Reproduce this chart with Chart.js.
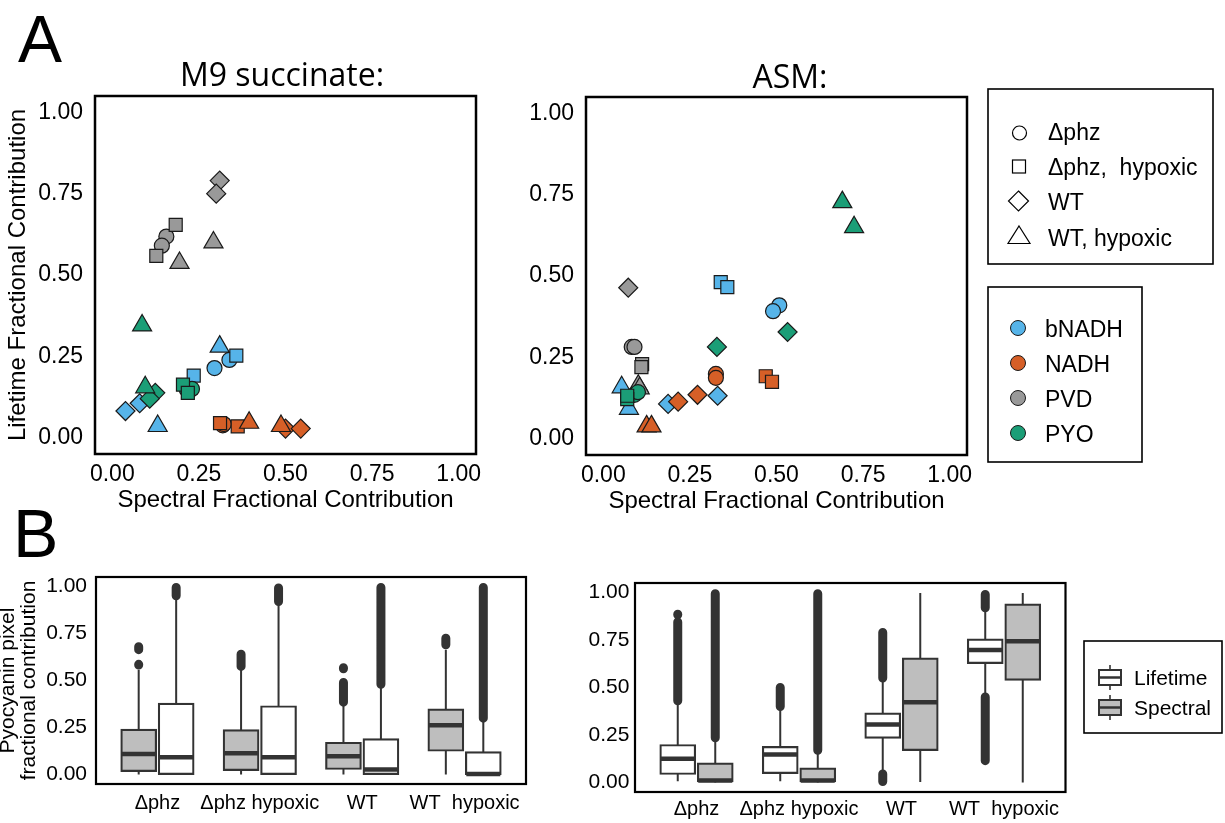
<!DOCTYPE html>
<html lang="en">
<head>
<meta charset="UTF-8" />
<title>Pyocyanin fractional contribution</title>
<script src="https://cdn.jsdelivr.net/npm/chart.js"></script>
<style>
body { margin: 0; background: #fff; }
#page {
  position: relative;
  width: 1225px;
  height: 823px;
  overflow: hidden;
  background: #fff;
  font-family: 'Liberation Sans', Arial, Helvetica, sans-serif;
}
canvas { position: absolute; }
#overlay { position: absolute; left: 0; top: 0; pointer-events: none; }
</style>
</head>
<body>
<div id="page">
  <canvas id="m9Scatter" width="482" height="430" style="left:0;top:90px"></canvas>
  <canvas id="asmScatter" width="482" height="430" style="left:490px;top:90px"></canvas>
  <canvas id="m9Box" width="532" height="253" style="left:0;top:570px"></canvas>
  <canvas id="asmBox" width="532" height="248" style="left:540px;top:575px"></canvas>
  <svg id="overlay" width="1225" height="823"></svg>
</div>

<script>
// ---- panel A : scatter values [spectral, lifetime, condition] ----
const shapeKeys = ['phz', 'phzHyp', 'wt', 'wtHyp'];
const shapeLabels = ['Δphz', 'Δphz,  hypoxic', 'WT', 'WT, hypoxic'];
const fluorLabels = ['bNADH', 'NADH', 'PVD', 'PYO'];
const fracTicks = [0, 0.25, 0.5, 0.75, 1];

const m9BNADH = [[0.038, 0.082, 'wt'], [0.079, 0.106, 'wt'], [0.131, 0.036, 'wtHyp'], [0.31, 0.28, 'wtHyp'],
  [0.235, 0.191, 'phzHyp'], [0.358, 0.252, 'phzHyp'], [0.295, 0.214, 'phz'], [0.338, 0.239, 'phz']];
const m9NADH = [[0.319, 0.038, 'phz'], [0.322, 0.042, 'phz'], [0.311, 0.045, 'phzHyp'], [0.362, 0.035, 'phzHyp'],
  [0.395, 0.046, 'wtHyp'], [0.487, 0.036, 'wtHyp'], [0.50, 0.028, 'wt'], [0.544, 0.028, 'wt']];
const m9PVD = [[0.31, 0.79, 'wt'], [0.30, 0.75, 'wt'], [0.183, 0.654, 'phzHyp'], [0.127, 0.559, 'phzHyp'],
  [0.156, 0.618, 'phz'], [0.143, 0.59, 'phz'], [0.292, 0.60, 'wtHyp'], [0.194, 0.537, 'wtHyp']];
const m9PYO = [[0.086, 0.345, 'wtHyp'], [0.095, 0.155, 'wtHyp'], [0.124, 0.138, 'wt'], [0.108, 0.12, 'wt'],
  [0.215, 0.148, 'phz'], [0.23, 0.15, 'phz'], [0.204, 0.163, 'phzHyp'], [0.218, 0.138, 'phzHyp']];

const asmBNADH = [[0.339, 0.481, 'phzHyp'], [0.358, 0.466, 'phzHyp'], [0.508, 0.41, 'phz'], [0.49, 0.392, 'phz'],
  [0.33, 0.132, 'wt'], [0.187, 0.107, 'wt'], [0.053, 0.158, 'wtHyp'], [0.074, 0.092, 'wtHyp']];
const asmNADH = [[0.469, 0.192, 'phzHyp'], [0.487, 0.175, 'phzHyp'], [0.325, 0.199, 'phz'], [0.325, 0.187, 'phz'],
  [0.272, 0.135, 'wt'], [0.216, 0.114, 'wt'], [0.125, 0.038, 'wtHyp'], [0.139, 0.038, 'wtHyp']];
const asmPVD = [[0.072, 0.464, 'wt'], [0.082, 0.282, 'phz'], [0.09, 0.282, 'phz'], [0.112, 0.229, 'phzHyp'],
  [0.11, 0.22, 'phzHyp'], [0.101, 0.163, 'wtHyp'], [0.105, 0.155, 'wtHyp']];
const asmPYO = [[0.69, 0.727, 'wtHyp'], [0.724, 0.65, 'wtHyp'], [0.532, 0.328, 'wt'], [0.328, 0.282, 'wt'],
  [0.069, 0.122, 'phzHyp'], [0.069, 0.132, 'phzHyp'], [0.09, 0.135, 'phz'], [0.1, 0.143, 'phz']];

// ---- panel B : box stats [lower whisker, Q1, median, Q3, upper whisker], outliers as [from, to] ----
const boxGroups = ['Δphz', 'Δphz hypoxic', 'WT', 'WT  hypoxic'];
const boxLabels = ['Lifetime', 'Spectral'];

const m9Spectral = [[0.0, 0.016, 0.11, 0.242, 0.557], [0.0, 0.021, 0.113, 0.239, 0.557],
  [0.0, 0.027, 0.097, 0.172, 0.38], [0.0, 0.124, 0.262, 0.349, 0.664]];
const m9SpectralOut = [[[0.582, 0.586], [0.664, 0.68]], [[0.575, 0.64]], [[0.385, 0.49], [0.562, 0.568]], [[0.69, 0.725]]];
const m9Lifetime = [[0.0, 0.0, 0.092, 0.38, 0.93], [0.0, 0.0, 0.092, 0.366, 0.91],
  [0.0, 0.0, 0.027, 0.191, 0.47], [0.0, 0.0, 0.003, 0.122, 0.29]];
const m9LifetimeOut = [[[0.95, 0.994]], [[0.92, 0.992]], [[0.48, 0.994]], [[0.30, 0.994]]];

const asmLifetime = [[0.007, 0.042, 0.125, 0.2, 0.42], [0.007, 0.047, 0.147, 0.19, 0.385],
  [0.06, 0.232, 0.305, 0.367, 0.54], [0.46, 0.626, 0.697, 0.756, 0.905]];
const asmLifetimeOut = [[[0.43, 0.845], [0.883, 0.886]], [[0.40, 0.50]], [[0.55, 0.79], [0.005, 0.045]],
  [[0.92, 0.99], [0.115, 0.45]]];
const asmSpectral = [[0.0, 0.003, 0.01, 0.103, 0.226], [0.0, 0.003, 0.01, 0.077, 0.16],
  [0.003, 0.168, 0.423, 0.656, 0.998], [0.0, 0.537, 0.744, 0.94, 0.998]];
const asmSpectralOut = [[[0.235, 0.994]], [[0.17, 0.994]], [], []];

// ---- styling ----
const sans = "'Liberation Sans', Arial, Helvetica, sans-serif";
const fluorColors = ['#56B4E9', '#D65F27', '#999999', '#1B9E77'];
const shapeStyles = ['circle', 'rect', 'rectRot', 'triangle'];
const shapeRadius = [7.5, 9.2, 9.5, 11];
const dark = '#333333';
const boxGrey = '#BEBEBE';
const dodge = 0.183;

Chart.defaults.font.family = sans;
Chart.defaults.color = '#000';
Chart.defaults.animation = false;

const framePlugin = {
  id: 'frame',
  afterDraw(chart, args, opts) {
    const { ctx, chartArea: a } = chart;
    ctx.save();
    ctx.strokeStyle = '#000';
    ctx.lineWidth = opts.width || 2;
    ctx.strokeRect(a.left, a.top, a.right - a.left, a.bottom - a.top);
    ctx.restore();
  }
};

// fixed axis box, and no extra room for end labels (they sit inside the range)
function fitBox(s, o) {
  if (o.width) s.width = o.width;
  if (o.height) s.height = o.height;
  s.paddingTop = 0; s.paddingBottom = 0; s.paddingLeft = 0; s.paddingRight = 0;
}

function fracAxis(o) {
  return {
    type: 'linear', min: -0.05, max: 1.05,
    grid: { display: false, drawTicks: false },
    border: { display: false },
    afterBuildTicks: s => { s.ticks = fracTicks.map(v => ({ value: v })); },
    afterFit: s => fitBox(s, o),
    ticks: { callback: v => v.toFixed(2), font: { size: o.tickSize }, color: '#000', padding: o.tickPad },
    title: {
      display: !!o.title, text: o.title, color: '#000', padding: o.titlePad || 0,
      font: { size: o.titleSize || 24, lineHeight: o.titleLine || 1.2 }
    }
  };
}

function scatterSets(seriesList) {
  const sets = [];
  seriesList.forEach((pts, fi) => {
    shapeKeys.forEach((key, si) => {
      const data = pts.filter(p => p[2] === key).map(p => ({ x: p[0], y: p[1] }));
      if (!data.length) return;
      sets.push({
        label: fluorLabels[fi] + ' ' + shapeLabels[si],
        data,
        pointStyle: shapeStyles[si],
        pointRadius: shapeRadius[si],
        backgroundColor: fluorColors[fi],
        borderColor: '#1a1a1a',
        borderWidth: 1.2
      });
    });
  });
  sets.forEach((s, i) => { s.order = -i; });
  return sets;
}

function scatterChart(id, series, o) {
  new Chart(document.getElementById(id), {
    type: 'scatter',
    data: { datasets: scatterSets(series) },
    plugins: [framePlugin],
    options: {
      responsive: false,
      layout: { padding: o.padding, autoPadding: false },
      plugins: { legend: { display: false }, tooltip: { enabled: false }, frame: { width: 2.5 } },
      scales: {
        x: fracAxis({ height: o.xHeight, tickSize: 23, tickPad: 7, title: 'Spectral Fractional Contribution', titlePad: { top: 0, bottom: o.xTitlePad } }),
        y: fracAxis({ width: o.yWidth, tickSize: 23, tickPad: 12, title: o.yTitle, titlePad: { top: 3.5, bottom: 0 } })
      }
    }
  });
}

function boxSets(series) {
  const whisk = [], outl = [], sets = [];
  series.forEach((s, k) => {
    const dx = k === 0 ? -dodge : dodge;
    s.stats.forEach((st, g) => {
      const x = g + 1 + dx;
      whisk.push({ x, y: st[0] }, { x, y: st[4] }, { x, y: null });
      s.out[g].forEach(r => outl.push({ x, y: r[0] }, { x, y: r[1] }, { x, y: null }));
    });
    sets.push({
      type: 'bar', label: s.label,
      data: s.stats.map((st, g) => ({ x: g + 1 + dx, y: [st[1], st[3]] })),
      backgroundColor: s.fill, borderColor: dark, borderWidth: 2.2, borderSkipped: false,
      grouped: false, barThickness: 36, order: 2
    });
    sets.push({
      type: 'line', showLine: false,
      data: s.stats.map((st, g) => ({ x: g + 1 + dx, y: st[2] })),
      pointStyle: 'line', pointRadius: 17, pointBorderWidth: 4.5, pointBorderColor: dark, order: 1
    });
  });
  sets.push({ type: 'line', data: whisk, borderColor: dark, borderWidth: 2, pointRadius: 0, spanGaps: false, order: 4 });
  sets.push({ type: 'line', data: outl, borderColor: dark, borderWidth: 9, borderCapStyle: 'round', pointRadius: 0, spanGaps: false, order: 3 });
  return sets;
}

function boxChart(id, series, o) {
  new Chart(document.getElementById(id), {
    type: 'bar',
    data: { datasets: boxSets(series) },
    plugins: [framePlugin],
    options: {
      responsive: false,
      layout: { padding: o.padding, autoPadding: false },
      plugins: { legend: { display: false }, tooltip: { enabled: false }, frame: { width: 2.2 } },
      scales: {
        x: {
          type: 'linear', min: 0.4, max: 4.6, offset: false,
          grid: { display: false, drawTicks: false }, border: { display: false },
          afterBuildTicks: s => { s.ticks = boxGroups.map((g, i) => ({ value: i + 1 })); },
          afterFit: s => fitBox(s, { height: o.xHeight }),
          ticks: { callback: v => boxGroups[v - 1], font: { size: 20 }, color: '#000', padding: o.xTickPad, autoSkip: false, maxRotation: 0 }
        },
        y: fracAxis({ width: o.yWidth, tickSize: 21, tickPad: o.yTickPad, title: o.yTitle, titleSize: 21, titleLine: 1.0,
                      titlePad: { top: -2.7, bottom: 0 } })
      }
    }
  });
}

scatterChart('m9Scatter', [m9BNADH, m9NADH, m9PVD, m9PYO],
  { padding: { top: 6, right: 6 }, xHeight: 66, yWidth: 95, xTitlePad: 5.5, yTitle: 'Lifetime Fractional Contribution' });
scatterChart('asmScatter', [asmBNADH, asmNADH, asmPVD, asmPYO],
  { padding: { top: 7, right: 5 }, xHeight: 65, yWidth: 96, xTitlePad: 4.5, yTitle: '' });

boxChart('m9Box', [
  { label: boxLabels[1], stats: m9Spectral, out: m9SpectralOut, fill: boxGrey },
  { label: boxLabels[0], stats: m9Lifetime, out: m9LifetimeOut, fill: '#ffffff' }
], { padding: { top: 7, right: 6 }, xHeight: 39, yWidth: 96, xTickPad: 7.5, yTickPad: 9,
     yTitle: ['Pyocyanin pixel', 'fractional contribution'] });
boxChart('asmBox', [
  { label: boxLabels[0], stats: asmLifetime, out: asmLifetimeOut, fill: '#ffffff' },
  { label: boxLabels[1], stats: asmSpectral, out: asmSpectralOut, fill: boxGrey }
], { padding: { top: 8, right: 6.5 }, xHeight: 31, yWidth: 95, xTickPad: 5.5, yTickPad: 5.6, yTitle: '' });

// ---- panel letters, titles and legends ----
let svg = '';
const txt = (x, y, s, size, extra) =>
  `<text x="${x}" y="${y}" font-size="${size}" ${extra || ''}>${s}</text>`;
svg += `<g font-family="${sans.replace(/'/g, '')}" fill="#000">`;
svg += txt(18, 62, 'A', 66);
svg += txt(13, 557, 'B', 68);
svg += txt(282, 86, 'M9 succinate:', 32, 'text-anchor="middle" font-family="Open Sans"');
svg += txt(790, 88, 'ASM:', 32, 'text-anchor="middle" font-family="Open Sans"');

// shape legend
svg += '<rect x="988" y="89" width="225" height="175" fill="#fff" stroke="#000" stroke-width="1.6"/>';
const shapeRows = [133, 166.5, 201, 236];
const shapeBase = [139.5, 175, 209.5, 245.5];
const so = 'fill="#fff" stroke="#000" stroke-width="1.2"';
svg += `<circle cx="1019.5" cy="${shapeRows[0]}" r="7" ${so}/>`;
svg += `<rect x="1012.5" y="${shapeRows[1] - 6.5}" width="13" height="13" ${so}/>`;
svg += `<polygon points="1018.5,${shapeRows[2] - 10} 1028.5,${shapeRows[2]} 1018.5,${shapeRows[2] + 10} 1008.5,${shapeRows[2]}" ${so}/>`;
svg += `<polygon points="1019,${shapeRows[3] - 10} 1030,${shapeRows[3] + 7.5} 1008,${shapeRows[3] + 7.5}" ${so}/>`;
shapeLabels.forEach((l, i) => { svg += txt(1048, shapeBase[i], l, 23, 'xml:space="preserve"'); });

// colour legend
svg += '<rect x="988" y="287" width="154" height="175" fill="#fff" stroke="#000" stroke-width="1.6"/>';
const fluorRows = [328, 363, 398, 433];
const fluorBase = [336.5, 371.5, 406.5, 441.5];
fluorLabels.forEach((l, i) => {
  svg += `<circle cx="1018" cy="${fluorRows[i]}" r="7.5" fill="${fluorColors[i]}" stroke="#1a1a1a" stroke-width="1"/>`;
  svg += txt(1045, fluorBase[i], l, 23);
});

// box legend
svg += '<rect x="1084" y="641" width="138" height="92" fill="#fff" stroke="#000" stroke-width="1.6"/>';
const keyTop = [670, 700];
const keyFill = ['#fff', boxGrey];
boxLabels.forEach((l, i) => {
  const t = keyTop[i];
  svg += `<line x1="1110" y1="${t - 5}" x2="1110" y2="${t + 20}" stroke="${dark}" stroke-width="1.6"/>`;
  svg += `<rect x="1099" y="${t}" width="22" height="15" fill="${keyFill[i]}" stroke="${dark}" stroke-width="2"/>`;
  svg += `<line x1="1099" y1="${t + 7.5}" x2="1121" y2="${t + 7.5}" stroke="${dark}" stroke-width="2.5"/>`;
  svg += txt(1134, t + 15, l, 21);
});
svg += '</g>';
document.getElementById('overlay').innerHTML = svg;
</script>
</body>
</html>
